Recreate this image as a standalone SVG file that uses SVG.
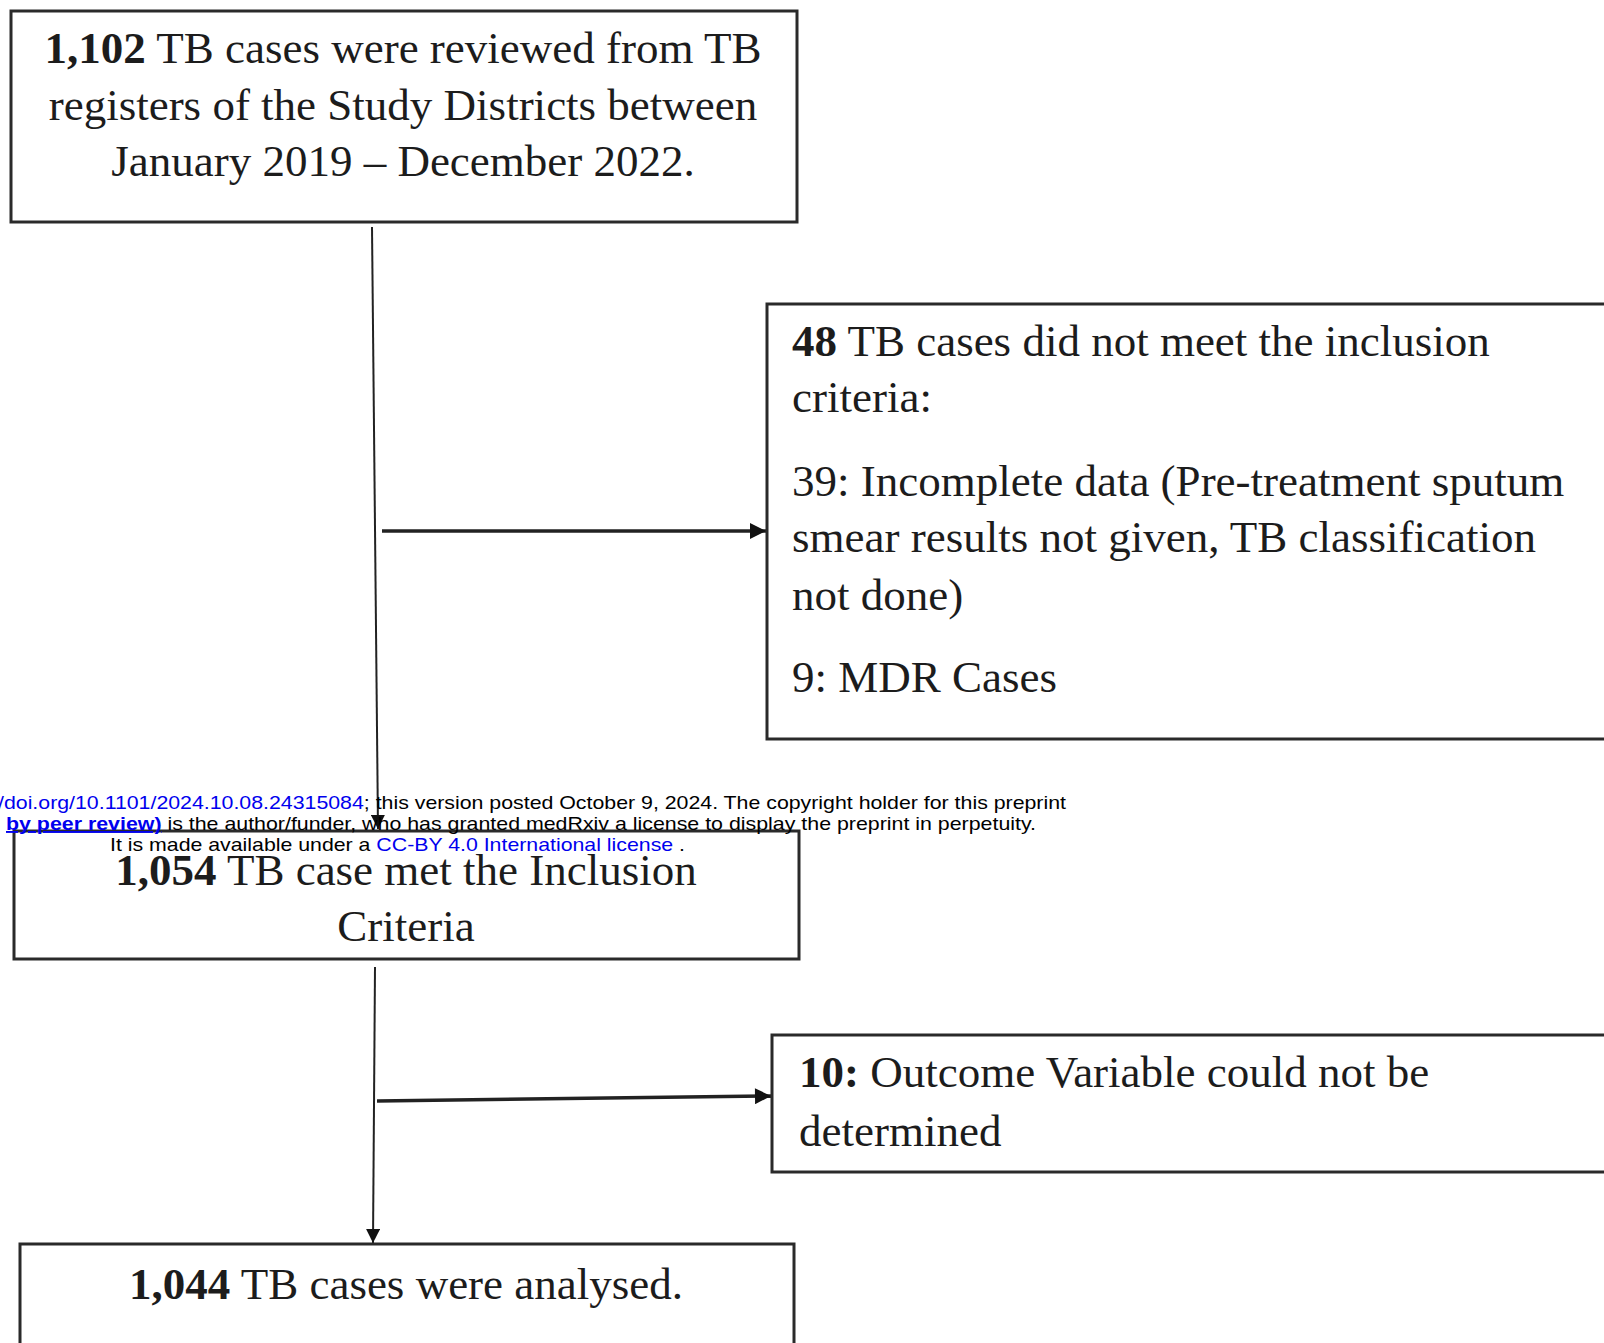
<svg xmlns="http://www.w3.org/2000/svg" width="1604" height="1343" viewBox="0 0 1604 1343">
<style>
.box{fill:#fff;stroke:#2a2a2a;stroke-width:3}
.t{font-family:"Liberation Serif","Times New Roman",serif;font-size:45px;fill:#1c1c1c}
.b{font-weight:bold}
.c{text-anchor:middle}
.w{font-family:"Liberation Sans",Arial,sans-serif;font-size:19px;fill:#000}
.lnk{fill:#0000ee}
.ln{stroke:#222;fill:none}
</style>
<defs>
<marker id="ah" viewBox="0 0 10 10" refX="10" refY="5" markerWidth="20" markerHeight="16" markerUnits="userSpaceOnUse" orient="auto">
<path d="M0,0 L10,5 L0,10 z" fill="#111"/>
</marker>
<marker id="ah2" viewBox="0 0 10 10" refX="10" refY="5" markerWidth="18" markerHeight="14" markerUnits="userSpaceOnUse" orient="auto">
<path d="M0,0 L10,5 L0,10 z" fill="#111"/>
</marker>
</defs>
<g id="connectors">
<line class="ln" x1="372" y1="227" x2="378" y2="829" stroke-width="2" marker-end="url(#ah2)"/>
<line class="ln" x1="382" y1="531" x2="766" y2="531" stroke-width="3.5" marker-end="url(#ah)"/>
<line class="ln" x1="375" y1="967" x2="373" y2="1243" stroke-width="2" marker-end="url(#ah2)"/>
<line class="ln" x1="377" y1="1101" x2="771" y2="1096" stroke-width="3.5" marker-end="url(#ah)"/>
</g>
<g id="node-reviewed">
<rect class="box" x="11" y="11" width="786" height="211"/>
<text class="t c" x="403" y="63"><tspan class="b">1,102</tspan> TB cases were reviewed from TB</text>
<text class="t c" x="403" y="120">registers of the Study Districts between</text>
<text class="t c" x="403" y="176">January 2019 – December 2022.</text>
</g>
<g id="node-excluded">
<rect class="box" x="767" y="304" width="850" height="435"/>
<text class="t" x="792" y="356"><tspan class="b">48</tspan> TB cases did not meet the inclusion</text>
<text class="t" x="792" y="412">criteria:</text>
<text class="t" x="792" y="496">39: Incomplete data (Pre-treatment sputum</text>
<text class="t" x="792" y="552">smear results not given, TB classification</text>
<text class="t" x="792" y="610">not done)</text>
<text class="t" x="792" y="692">9: MDR Cases</text>
</g>
<g id="node-met">
<rect class="box" x="14" y="831" width="785" height="128"/>
<text class="t c" x="406" y="885"><tspan class="b">1,054</tspan> TB case met the Inclusion</text>
<text class="t c" x="406" y="941">Criteria</text>
</g>
<g id="node-outcome">
<rect class="box" x="772" y="1035" width="850" height="137"/>
<text class="t" x="799" y="1087"><tspan class="b">10:</tspan>  Outcome Variable could not be</text>
<text class="t" x="799" y="1146">determined</text>
</g>
<g id="node-analysed">
<rect class="box" x="20" y="1244" width="774" height="120"/>
<text class="t c" x="406" y="1299"><tspan class="b">1,044</tspan> TB cases were analysed.</text>
</g>
<g id="watermark">
<text class="w" x="-2" y="809" textLength="1068" lengthAdjust="spacingAndGlyphs"><tspan class="lnk">/doi.org/10.1101/2024.10.08.24315084</tspan>; this version posted October 9, 2024. The copyright holder for this preprint</text>
<text class="w" x="6" y="830" textLength="1030" lengthAdjust="spacingAndGlyphs"><tspan class="lnk" font-weight="bold" text-decoration="underline">by peer review)</tspan> is the author/funder, who has granted medRxiv a license to display the preprint in perpetuity.</text>
<text class="w" x="110" y="851" textLength="575" lengthAdjust="spacingAndGlyphs">It is made available under a <tspan class="lnk">CC-BY 4.0 International license</tspan> .</text>
</g>
</svg>
